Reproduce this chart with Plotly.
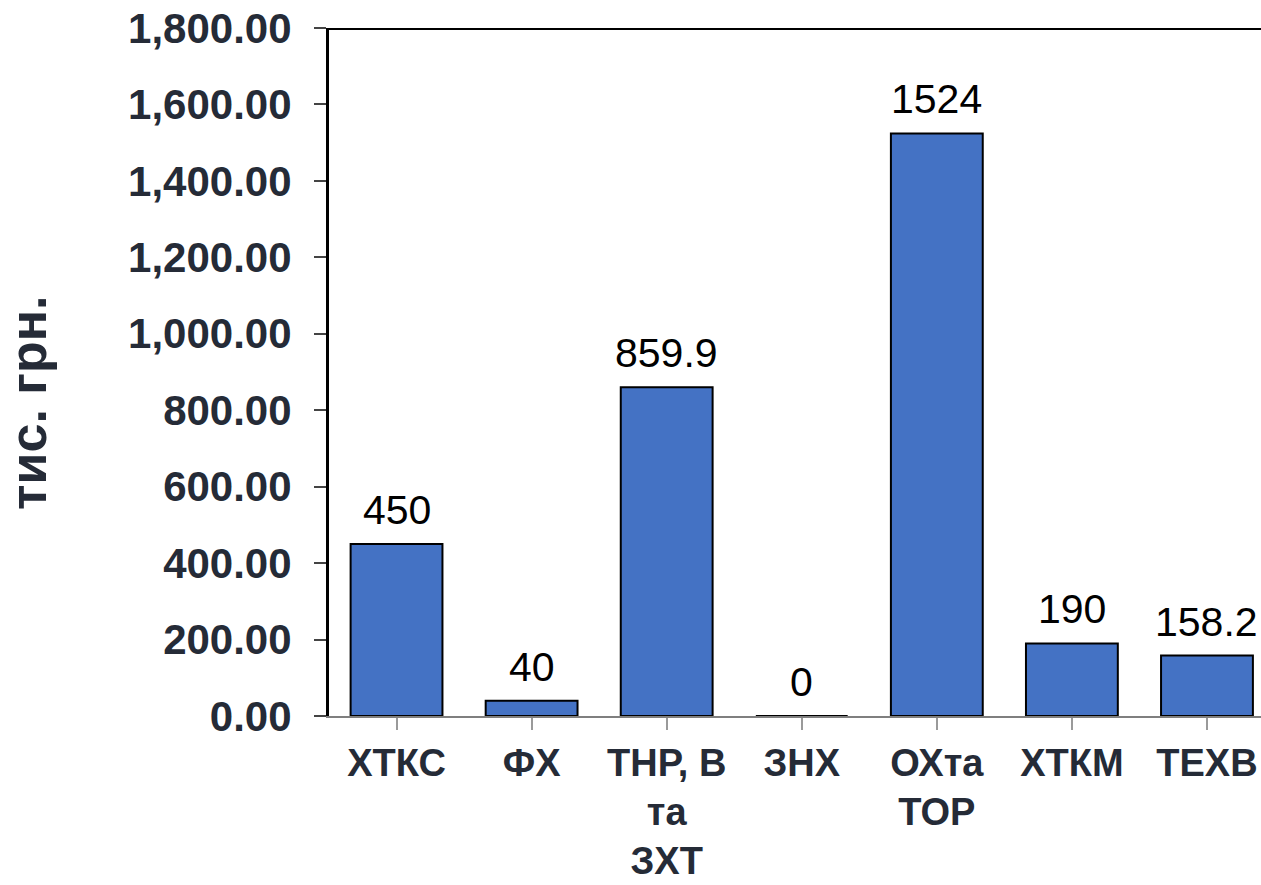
import plotly.graph_objects as go

categories = ["ХТКС", "ФХ", "ТНР, В<br>та<br>ЗХТ", "ЗНХ", "ОХта<br>ТОР", "ХТКМ", "ТЕХВ"]
values = [450, 40, 859.9, 0, 1524, 190, 158.2]
value_labels = ["450", "40", "859.9", "0", "1524", "190", "158.2"]
y_title = "тис. грн."

txt = "#252b37"
font_b = "Liberation Sans"

fig = go.Figure()
fig.add_trace(go.Bar(
    x=list(range(len(categories))), y=values, width=0.68,
    marker=dict(color="#4472C4", line=dict(color="#000000", width=2)),
    hoverinfo="skip",
))

for i, (v, lab) in enumerate(zip(values, value_labels)):
    fig.add_annotation(x=i, y=v, text=lab, showarrow=False, xanchor="center",
                       yanchor="bottom", yshift=9,
                       font=dict(family=font_b, size=41, color="#000000"))

fig.add_annotation(xref="paper", yref="paper", x=0, y=0.455, xshift=-301,
                   text=y_title, textangle=-90, showarrow=False,
                   xanchor="center", yanchor="middle",
                   font=dict(family=font_b, size=52, color=txt, weight="bold"))

fig.add_shape(type="line", xref="paper", yref="y", x0=0, x1=1, y0=1800, y1=1800,
              line=dict(color="#000000", width=4))

fig.update_layout(
    width=1261, height=885,
    margin=dict(l=329, r=0, t=28, b=169, autoexpand=False),
    plot_bgcolor="white", paper_bgcolor="white",
    showlegend=False,
    font=dict(family=font_b, color=txt),
    xaxis=dict(
        tickmode="array", tickvals=list(range(len(categories))),
        ticktext=categories,
        range=[-0.5, 6.4], tickson="boundaries",
        ticks="outside", ticklen=12, tickcolor="#9a9a9a", tickwidth=2,
        showline=True, linecolor="#7f7f7f", linewidth=2,
        showgrid=False, zeroline=False, ticklabeloverflow="allow",
        automargin=False,
        tickfont=dict(family=font_b, size=38, color=txt, weight="bold"),
    ),
    yaxis=dict(
        range=[0, 1800], tickmode="linear", tick0=0, dtick=200,
        tickformat=",.2f",
        ticks="outside", ticklen=12, tickcolor="#444444", tickwidth=2,
        showline=True, linecolor="#000000", linewidth=3,
        showgrid=False, zeroline=False, ticklabelstandoff=14,
        ticklabeloverflow="allow", automargin=False,
        tickfont=dict(family=font_b, size=42, color=txt, weight="bold"),
    ),
)

fig.write_html("out.html", config={"displayModeBar": False},
               post_script="document.body.style.margin='0px';document.body.style.overflow='hidden';")
